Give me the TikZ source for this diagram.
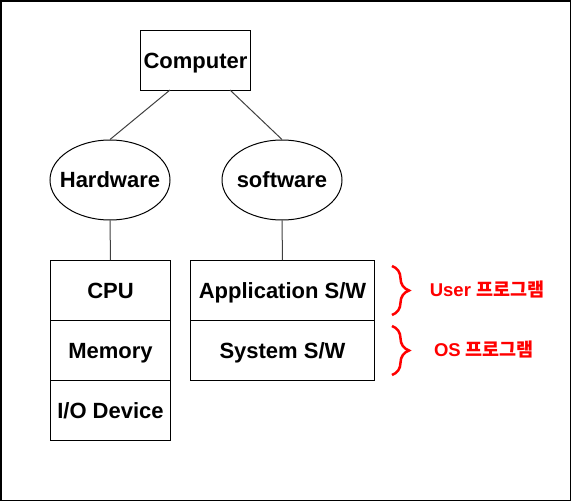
\documentclass[tikz,border=0pt]{standalone}
\usepackage{fontspec}
\setmainfont{Liberation Sans}
\newfontfamily\kr{Noto Sans CJK KR}
\usetikzlibrary{shapes.geometric,decorations.pathreplacing}
\begin{document}
\begin{tikzpicture}[x=1pt,y=-1pt,
  txt/.style={font=\fontsize{22}{26}\selectfont\bfseries,text height=15.8pt,text depth=0pt},
  box/.style={draw=black,line width=1pt,txt,inner sep=0pt,anchor=north west},
  oval/.style={draw=black,line width=1pt,ellipse,txt,inner sep=0pt,minimum width=120pt,minimum height=80pt},
  conn/.style={draw=black!75,line width=1pt},
  redbrace/.style={draw=red,line width=2.5pt,decorate,decoration={brace,amplitude=17pt,aspect=0.5}},
  redlabel/.style={text=red,font=\fontsize{18.5}{22}\selectfont\bfseries,text height=13.5pt,text depth=0pt}]
\draw[line width=1.5pt] (0.75,0.75) rectangle (570.25,500.25);
\useasboundingbox (0,0) rectangle (571,501);
\node[box,minimum width=110pt,minimum height=60pt] (comp) at (140,30) {Computer};
\node[oval] (hw) at (110,180) {\makebox[0pt]{Hardware}};
\node[oval] (sw) at (282,180) {\makebox[0pt]{software}};
\node[box,minimum width=120pt,minimum height=60pt] (cpu) at (50,260) {CPU};
\node[box,minimum width=120pt,minimum height=60pt] (mem) at (50,320) {Memory};
\node[box,minimum width=120pt,minimum height=60pt] (io) at (50,380) {I/O Device};
\node[box,minimum width=184pt,minimum height=60pt] (app) at (190,260) {Application S/W};
\node[box,minimum width=184pt,minimum height=60pt] (sys) at (190,320) {System S/W};
\coordinate (cl) at (170,90);
\coordinate (cr) at (230,90);
\draw[conn] (cl) -- (hw.north);
\draw[conn] (cr) -- (sw.north);
\draw[conn] (hw.south) -- (cpu.north);
\draw[conn] (sw.south) -- (app.north);
\coordinate (b1a) at (392,266);
\coordinate (b1b) at (392,315);
\coordinate (b2a) at (392,326);
\coordinate (b2b) at (392,375);
\draw[redbrace] (b1a) -- (b1b);
\draw[redbrace] (b2a) -- (b2b);
\node[redlabel] (ul) at (487,290) {User {\kr 프로그램}};
\node[redlabel] (ol) at (484,350) {OS {\kr 프로그램}};
\end{tikzpicture}
\end{document}
